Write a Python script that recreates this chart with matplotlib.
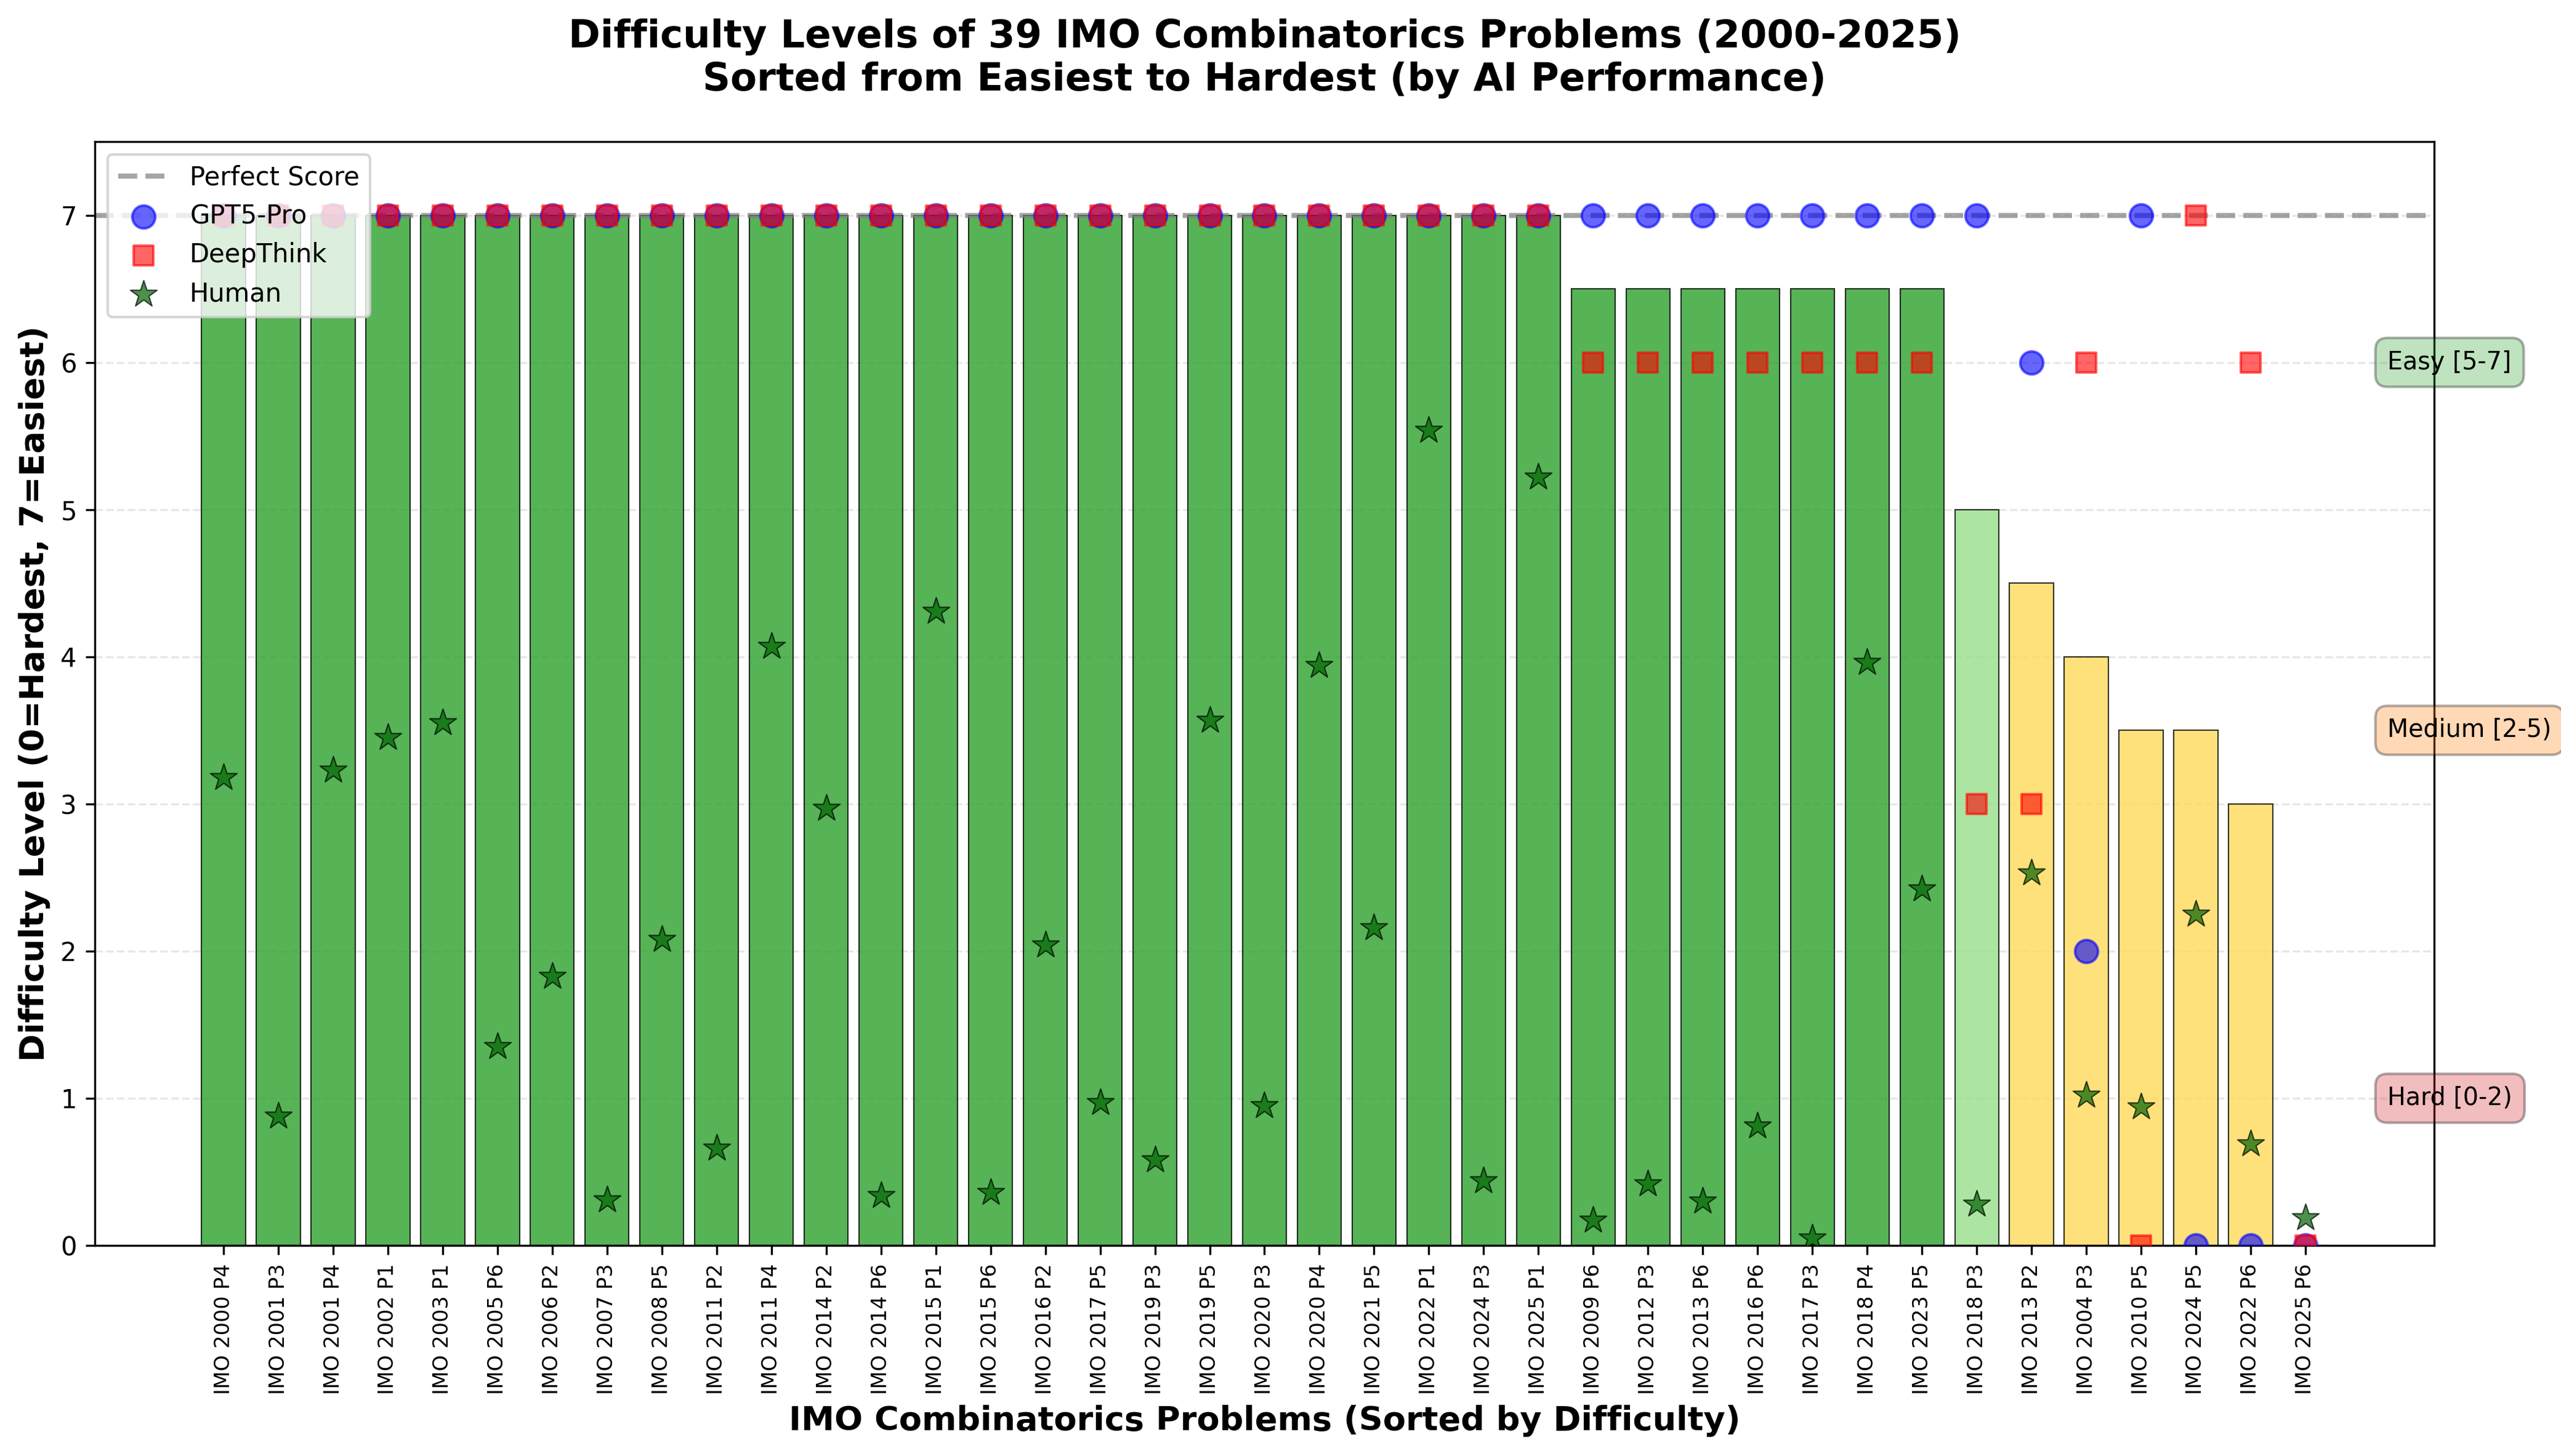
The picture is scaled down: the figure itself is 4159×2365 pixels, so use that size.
import numpy as np
import matplotlib
matplotlib.use("Agg")
import matplotlib.pyplot as plt

# problems, sorted from easiest to hardest
problems = ["IMO 2000 P4", "IMO 2001 P3", "IMO 2001 P4", "IMO 2002 P1", "IMO 2003 P1",
            "IMO 2005 P6", "IMO 2006 P2", "IMO 2007 P3", "IMO 2008 P5", "IMO 2011 P2",
            "IMO 2011 P4", "IMO 2014 P2", "IMO 2014 P6", "IMO 2015 P1", "IMO 2015 P6",
            "IMO 2016 P2", "IMO 2017 P5", "IMO 2019 P3", "IMO 2019 P5", "IMO 2020 P3",
            "IMO 2020 P4", "IMO 2021 P5", "IMO 2022 P1", "IMO 2024 P3", "IMO 2025 P1",
            "IMO 2009 P6", "IMO 2012 P3", "IMO 2013 P6", "IMO 2016 P6", "IMO 2017 P3",
            "IMO 2018 P4", "IMO 2023 P5", "IMO 2018 P3", "IMO 2013 P2", "IMO 2004 P3",
            "IMO 2010 P5", "IMO 2024 P5", "IMO 2022 P6", "IMO 2025 P6"]

difficulty = [7, 7, 7, 7, 7, 7, 7, 7, 7, 7, 7, 7, 7, 7, 7, 7, 7, 7, 7, 7, 7, 7, 7, 7, 7,
              6.5, 6.5, 6.5, 6.5, 6.5, 6.5, 6.5, 5, 4.5, 4, 3.5, 3.5, 3, 0]

gpt5 = [7, 7, 7, 7, 7, 7, 7, 7, 7, 7, 7, 7, 7, 7, 7, 7, 7, 7, 7, 7, 7, 7, 7, 7, 7,
        7, 7, 7, 7, 7, 7, 7, 7, 6, 2, 7, 0, 0, 0]

deepthink = [7, 7, 7, 7, 7, 7, 7, 7, 7, 7, 7, 7, 7, 7, 7, 7, 7, 7, 7, 7, 7, 7, 7, 7, 7,
             6, 6, 6, 6, 6, 6, 6, 3, 3, 6, 0, 7, 6, 0]

human = [3.18, 0.88, 3.23, 3.45, 3.55, 1.35, 1.83, 0.31, 2.08, 0.66,
         4.07, 2.97, 0.34, 4.31, 0.36, 2.04, 0.97, 0.58, 3.57, 0.95,
         3.94, 2.16, 5.54, 0.44, 5.22, 0.17, 0.42, 0.30, 0.81, 0.05,
         3.96, 2.42, 0.28, 2.53, 1.02, 0.94, 2.25, 0.69, 0.19]


def bar_color(v):
    if v > 5:
        return "#2ca02c"
    elif v >= 5:
        return "#98df8a"
    elif v >= 2:
        return "#ffda5a"
    return "#d62728"


x = np.arange(len(problems))
colors = [bar_color(v) for v in difficulty]

fig, ax = plt.subplots(figsize=(4159 / 300, 2365 / 300), dpi=300)
fig.subplots_adjust(left=154 / 4159, right=3953 / 4159, top=1 - 230 / 2365, bottom=1 - 2023 / 2365)

ax.axhline(7, color="gray", linestyle="--", linewidth=2, alpha=0.7, label="Perfect Score")
ax.bar(x, difficulty, width=0.8, color=colors, alpha=0.8, edgecolor="black", linewidth=0.5)

ax.scatter(x, gpt5, s=80, color="blue", alpha=0.6, marker="o", label="GPT5-Pro", zorder=3)
ax.scatter(x, deepthink, s=60, color="red", alpha=0.6, marker="s", label="DeepThink", zorder=3)
ax.scatter(x, human, s=120, color="darkgreen", edgecolor="black", linewidth=0.5,
           alpha=0.7, marker="*", label="Human", zorder=4)

# difficulty bands on the right
ax.text(39.5, 6, "Easy [5-7]", fontsize=9.5, va="center", ha="left",
        bbox=dict(boxstyle="round,pad=0.5", facecolor="#2ca02c", alpha=0.3))
ax.text(39.5, 3.5, "Medium [2-5)", fontsize=9.5, va="center", ha="left",
        bbox=dict(boxstyle="round,pad=0.5", facecolor="#ff7f0e", alpha=0.3))
ax.text(39.5, 1, "Hard [0-2)", fontsize=9.5, va="center", ha="left",
        bbox=dict(boxstyle="round,pad=0.5", facecolor="#d62728", alpha=0.3))

ax.set_xticks(x)
ax.set_xticklabels(problems, rotation=90, fontsize=8)
ax.set_xlim(-2.35, 40.35)
ax.set_ylim(0, 7.5)
ax.grid(axis="y", linestyle="--", alpha=0.3)
ax.set_axisbelow(True)

ax.set_xlabel("IMO Combinatorics Problems (Sorted by Difficulty)", fontsize=13, fontweight="bold")
ax.set_ylabel("Difficulty Level (0=Hardest, 7=Easiest)", fontsize=13, fontweight="bold")
ax.set_title("Difficulty Levels of 39 IMO Combinatorics Problems (2000-2025)\n"
             "Sorted from Easiest to Hardest (by AI Performance)",
             fontsize=15, fontweight="bold", pad=20)
ax.legend(loc="upper left")

fig.savefig("out.png", dpi=300)
